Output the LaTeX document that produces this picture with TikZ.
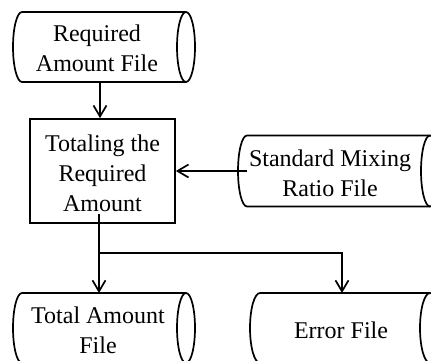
\documentclass[tikz,border=0pt]{standalone}
\usepackage{fontspec}
\setmainfont{Liberation Serif}
\usetikzlibrary{arrows.meta}
\begin{document}
\begin{tikzpicture}[x=1pt,y=1pt,
  lw/.style={line width=1.7pt},
  holder/.style={draw=none,inner sep=0pt,outer sep=0pt},
  lbl/.style={align=center,inner sep=0pt,font=\fontsize{24}{30}\selectfont},
  procbox/.style={draw,lw,inner sep=0pt,minimum width=145pt,minimum height=104pt},
  arr/.style={lw,-{Straight Barb[length=11pt,width=13pt,line width=1.7pt]}}]
\useasboundingbox (0,0) rectangle (431,361);
% file holders
\node[holder,minimum width=164pt,minimum height=70pt] (rf) at (104,314) {};
\node[holder,minimum width=183pt,minimum height=71pt] (sm) at (338.5,190) {};
\node[holder,minimum width=164pt,minimum height=70pt] (ta) at (104,33) {};
\node[holder,minimum width=170pt,minimum height=70pt] (ef) at (345,33) {};
% file outlines
\draw[lw] (rf.north east) -- (rf.north west) arc[start angle=90,end angle=270,x radius=9,y radius=35] -- (rf.south east);
\draw[lw] (rf.east) ellipse[x radius=9,y radius=35];
\draw[lw] (sm.north east) -- (sm.north west) arc[start angle=90,end angle=270,x radius=9,y radius=35.5] -- (sm.south east);
\draw[lw] (sm.east) ellipse[x radius=9,y radius=35.5];
\draw[lw] (ta.north east) -- (ta.north west) arc[start angle=90,end angle=270,x radius=9,y radius=35] -- (ta.south east);
\draw[lw] (ta.east) ellipse[x radius=9,y radius=35];
\draw[lw] (ef.north east) -- (ef.north west) arc[start angle=90,end angle=270,x radius=10,y radius=35] -- (ef.south east);
\draw[lw] (ef.east) ellipse[x radius=10,y radius=35];
% labels
\node[lbl] (rft) at (97,313) {Required\\Amount File};
\node[procbox] (box) at (102.5,190) {};
\node[lbl] (boxt) at (102.5,188) {Totaling the\\Required\\Amount};
\node[lbl] (smt) at (330,188) {Standard Mixing\\Ratio File};
\node[lbl] (tat) at (98,31) {Total Amount\\File};
\node[lbl] (eft) at (341,31) {Error File};
% connectors
\draw[arr] ([xshift=-2.5pt]box.north |- rf.south) -- ([xshift=-2.5pt]box.north);
\draw[arr] (sm.west) -- (sm.west -| box.east);
\coordinate (j) at ([xshift=-3.5pt]box.south |- 0,108);
\draw[lw] ([xshift=-3.5pt,yshift=10pt]box.south) -- (j);
\draw[arr] (j) -- (j |- ta.north);
\draw[arr] (j) -| ([xshift=-3pt]ef.north);
\end{tikzpicture}
\end{document}
